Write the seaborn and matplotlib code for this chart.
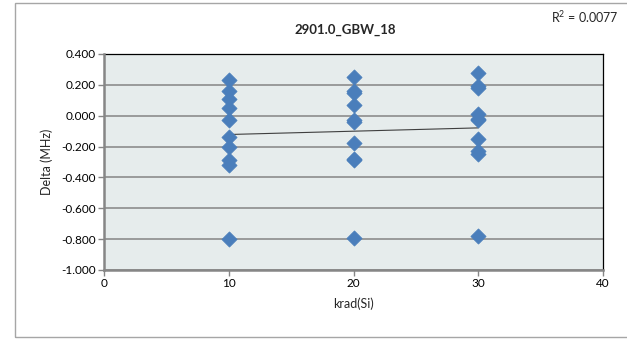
import matplotlib
matplotlib.use("Agg")
import matplotlib.pyplot as plt
import seaborn as sns
import pandas as pd
import numpy as np
from matplotlib.patches import Rectangle

# ---- data ----
dose_10 = [10] * 10
delta_10 = [0.23, 0.16, 0.11, 0.05, -0.03, -0.14, -0.20, -0.29, -0.32, -0.80]
dose_20 = [20] * 10
delta_20 = [0.25, 0.16, 0.15, 0.07, -0.03, -0.04, -0.18, -0.28, -0.29, -0.79]
dose_30 = [30] * 10
delta_30 = [0.28, 0.19, 0.18, 0.01, -0.02, -0.03, -0.15, -0.23, -0.25, -0.78]

title = "2901.0_GBW_18"
r2_text = "R$^{2}$ = 0.0077"
x_ticks = [0, 10, 20, 30, 40]
y_ticks = [0.4, 0.2, 0.0, -0.2, -0.4, -0.6, -0.8, -1.0]

df = pd.DataFrame({
    "krad": dose_10 + dose_20 + dose_30,
    "delta": delta_10 + delta_20 + delta_30,
})

sns.set_theme(style="white")
plt.rcParams["font.family"] = ["Lato", "DejaVu Sans"]
plt.rcParams["mathtext.fontset"] = "custom"
plt.rcParams["mathtext.rm"] = "Lato"
plt.rcParams["mathtext.it"] = "Lato"

fig = plt.figure(figsize=(6.27, 3.40), dpi=100)
ax = fig.add_axes([104 / 627, 1 - 270 / 340, (603 - 104) / 627, (270 - 54) / 340])
ax.set_facecolor("#e6ecec")

ax.set_xlim(0, 40)
ax.set_ylim(-1.0, 0.4)
ax.set_xticks(x_ticks)
ax.set_yticks(y_ticks)
ax.set_yticklabels([f"{v:.3f}" for v in y_ticks])
ax.set_xticklabels([str(v) for v in x_ticks])

for v in y_ticks:
    ax.axhline(v, color="#8c8c8c", lw=1.2, zorder=1)

sns.regplot(data=df, x="krad", y="delta", scatter=False, ci=None, truncate=True,
            ax=ax, line_kws=dict(color="#3f3f3f", lw=0.8, zorder=2))
sns.scatterplot(data=df, x="krad", y="delta", marker="D", s=60, color="#4a7ebb",
                edgecolor="#4a7ebb", linewidth=0.5, ax=ax, zorder=3)

for side in ["top", "right"]:
    ax.spines[side].set_color("#000000")
    ax.spines[side].set_linewidth(0.9)
for side in ["left", "bottom"]:
    ax.spines[side].set_color("#868686")
    ax.spines[side].set_linewidth(1.8)
    ax.spines[side].set_zorder(4)

ax.tick_params(axis="both", which="both", direction="out", length=4, width=1,
               color="#868686", labelsize=8.5, labelcolor="#000000", pad=2,
               left=True, bottom=True)
ax.set_xlabel("krad(Si)", fontsize=9, labelpad=6)
ax.set_ylabel("Delta (MHz)", fontsize=9, labelpad=6)

fig.text(345 / 627, 1 - 30 / 340, title, ha="center", va="center",
         fontsize=9.5, fontweight="bold")
fig.text(619 / 627, 1 - 17 / 340, r2_text, ha="right", va="center", fontsize=9)

fig.patches.append(Rectangle((15 / 627, 3 / 340), (640 - 15) / 627, (337 - 3) / 340,
                             transform=fig.transFigure, fill=False,
                             edgecolor="#a6a6a6", lw=1))

fig.savefig("out.png", dpi=100)
